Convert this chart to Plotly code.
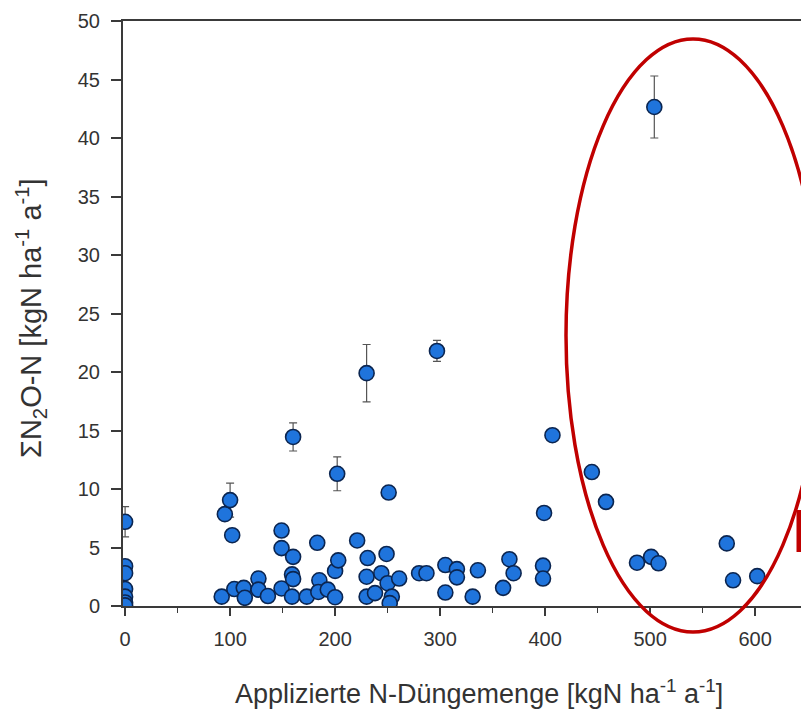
import plotly.graph_objects as go

# Applied N fertiliser [kgN ha-1 a-1] and cumulative N2O-N emission [kgN ha-1 a-1]
n_applied = [0, 0, 0, 0, 0, 0, 0,
             92, 95, 100, 102, 104, 113, 114, 127, 127, 136,
             149, 149, 149, 160, 160, 159, 160, 159, 173,
             183, 185, 184, 193, 200, 200, 203, 202,
             221, 230, 231, 230, 230, 238, 244, 249, 250, 251, 254, 252, 261,
             280, 287, 297, 305, 305, 316, 316, 336, 331,
             360, 366, 370, 398, 398, 399, 407, 444.5, 458,
             487.5, 501, 504, 508, 573, 579, 602]
n2o = [7.2, 3.4, 2.8, 1.45, 0.8, 0.3, 0.05,
       0.8, 7.85, 9.05, 6.05, 1.45, 1.55, 0.7, 2.35, 1.4, 0.85,
       6.45, 4.95, 1.5, 14.45, 4.2, 2.7, 2.3, 0.8, 0.8,
       5.4, 2.2, 1.2, 1.4, 0.75, 3.0, 3.9, 11.3,
       5.6, 19.9, 4.1, 2.5, 0.8, 1.1, 2.8, 4.45, 1.95, 9.7, 0.8, 0.25, 2.35,
       2.8, 2.8, 21.8, 3.5, 1.15, 3.15, 2.45, 3.05, 0.8,
       1.55, 4.0, 2.8, 3.45, 2.35, 7.95, 14.6, 11.45, 8.9,
       3.7, 4.2, 42.65, 3.65, 5.35, 2.2, 2.55]
n2o_err = [1.3, 0, 0, 0, 0, 0, 0,
           0, 0, 1.45, 0, 0, 0, 0, 0, 0, 0,
           0, 0, 0, 1.2, 0, 0, 0, 0, 0,
           0, 0, 0, 0, 0, 0, 0, 1.45,
           0, 2.45, 0, 0, 0, 0, 0, 0, 0, 0.5, 0, 0, 0,
           0, 0, 0.9, 0, 0, 0, 0, 0, 0,
           0, 0, 0, 0, 0, 0, 0, 0, 0,
           0, 0, 2.65, 0, 0, 0, 0]

x_ticks = [0, 100, 200, 300, 400, 500, 600]
y_ticks = [0, 5, 10, 15, 20, 25, 30, 35, 40, 45, 50]

FONT = "Liberation Sans, Arial, sans-serif"
AX = "#3a3a3a"
TXT = "#333333"

fig = go.Figure()
fig.add_trace(go.Scatter(
    x=n_applied, y=n2o, mode="markers",
    marker=dict(size=15, color="#1f74dc", line=dict(color="#0b2550", width=1.6)),
    error_y=dict(type="data", array=n2o_err, visible=True,
                 color="#555555", thickness=1.2, width=4),
    cliponaxis=True, showlegend=False,
))

fig.update_layout(
    width=801, height=715,
    margin=dict(l=123, r=0, t=21, b=109),
    paper_bgcolor="white", plot_bgcolor="white",
    font=dict(family=FONT, color=TXT, size=21),
    xaxis=dict(range=[-2, 643.7], tickvals=x_ticks, ticks="outside", ticklen=8,
               tickwidth=1.5, tickcolor=AX, showline=True, linecolor=AX, linewidth=2,
               mirror=True, showgrid=False, zeroline=False, ticklabelstandoff=6,
               minor=dict(dtick=50, tick0=0, ticks="outside", ticklen=5, tickcolor=AX,
                          tickwidth=1.2, showgrid=False),
               tickfont=dict(size=20, color=TXT)),
    yaxis=dict(range=[0, 50], tickvals=y_ticks, ticks="outside", ticklen=10,
               tickwidth=1.5, tickcolor=AX, showline=True, linecolor=AX, linewidth=2,
               showgrid=False, zeroline=False, ticklabelstandoff=7,
               tickfont=dict(size=20, color=TXT)),
)

fig.add_annotation(xref="paper", yref="paper", x=(31 - 123) / 678, y=(606 - 318) / 585,
                   xanchor="center", yanchor="middle",
                   text="ΣN<sub>2</sub>O-N [kgN ha<sup>-1</sup> a<sup>-1</sup>]",
                   textangle=-90, showarrow=False,
                   font=dict(family=FONT, size=29, color=TXT))
fig.add_annotation(xref="paper", yref="paper", x=(479 - 123) / 678, y=(606 - 692) / 585,
                   xanchor="center", yanchor="middle",
                   text="Applizierte N-Düngemenge [kgN ha<sup>-1</sup> a<sup>-1</sup>]",
                   showarrow=False,
                   font=dict(family=FONT, size=27, color=TXT))

# red highlight ellipse (annotation)
fig.add_shape(type="circle", xref="paper", yref="paper",
              x0=(566 - 123) / 678, x1=(820 - 123) / 678,
              y0=(606 - 632) / 585, y1=(606 - 39) / 585,
              line=dict(color="#c00000", width=3.5))
fig.add_shape(type="line", xref="paper", yref="paper",
              x0=(799 - 123) / 678, x1=(799 - 123) / 678,
              y0=(606 - 510) / 585, y1=(606 - 552) / 585,
              line=dict(color="#c00000", width=5))

fig.write_html("out.html", config={"displayModeBar": False},
               post_script="document.body.style.margin='0';document.body.style.overflow='hidden';")
